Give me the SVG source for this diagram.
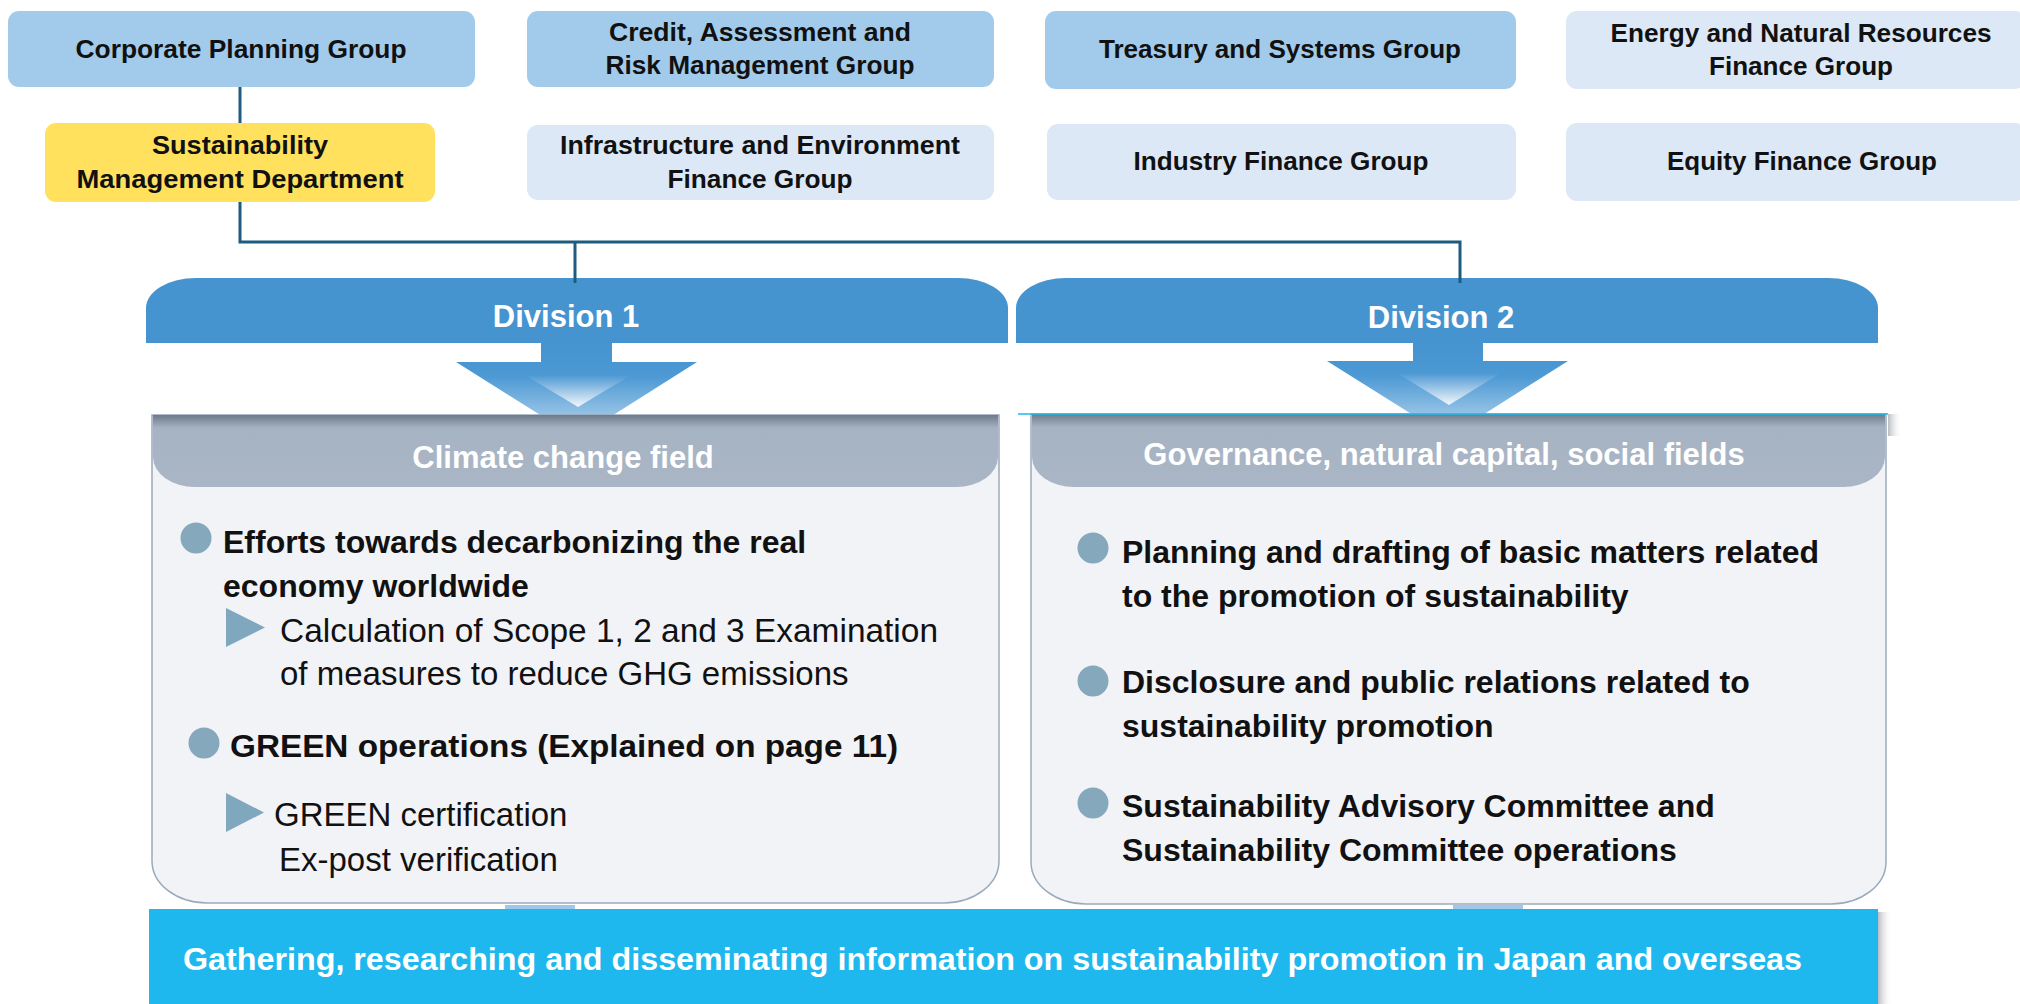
<svg xmlns="http://www.w3.org/2000/svg" width="2020" height="1004" viewBox="0 0 2020 1004">
<defs>
<style>
.grp{font-family:"Liberation Sans",Arial,sans-serif;font-weight:bold;font-size:26px;fill:#111;text-anchor:middle}
.dark{fill:#A2CBEB}
.light{fill:#DCE8F6}
.tab{fill:#4593CF}
.tabtxt{font-family:"Liberation Sans",Arial,sans-serif;font-weight:bold;font-size:31px;fill:#fff;text-anchor:middle}
.hdrtxt{font-family:"Liberation Sans",Arial,sans-serif;font-weight:bold;font-size:31px;fill:#fff;text-anchor:middle}
.body{fill:#F2F3F7;stroke:#9AAABD;stroke-width:1.5}
.b{font-family:"Liberation Sans",Arial,sans-serif;font-weight:bold;font-size:32px;fill:#111}
.r{font-family:"Liberation Sans",Arial,sans-serif;font-size:33px;fill:#111}
.dot{fill:#86A8BC}
.tri{fill:#7FA7BD}
.conn{fill:none;stroke:#1D5C7E;stroke-width:3}
.bantxt{font-family:"Liberation Sans",Arial,sans-serif;font-weight:bold;font-size:31px;fill:#fff}
</style>
<linearGradient id="arrowG" x1="0" y1="0" x2="0" y2="1">
<stop offset="0" stop-color="#4593CF"/>
<stop offset="0.35" stop-color="#4C99D4"/>
<stop offset="1" stop-color="#C2DCF1"/>
</linearGradient>
<linearGradient id="innerG" x1="0" y1="0" x2="0" y2="1">
<stop offset="0" stop-color="#4C98D3"/>
<stop offset="1" stop-color="#F4F7FC"/>
</linearGradient>
<linearGradient id="hdrG" x1="0" y1="0" x2="0" y2="1">
<stop offset="0" stop-color="#6E7A8A"/>
<stop offset="0.18" stop-color="#A6B3C3"/>
<stop offset="1" stop-color="#AAB6C6"/>
</linearGradient>
<linearGradient id="shR" x1="0" y1="0" x2="1" y2="0">
<stop offset="0" stop-color="#8A8F96" stop-opacity="0.6"/>
<stop offset="1" stop-color="#ffffff" stop-opacity="0"/>
</linearGradient>
</defs>
<rect width="2020" height="1004" fill="#fff"/>

<!-- Group boxes -->
<g id="corporate-planning">
<rect class="dark" x="8" y="11" width="467" height="76" rx="11"/>
<text class="grp" x="241" y="58" textLength="331" lengthAdjust="spacingAndGlyphs">Corporate Planning Group</text>
</g>
<g id="credit-risk">
<rect class="dark" x="527" y="11" width="467" height="76" rx="11"/>
<text class="grp" x="760" y="41" textLength="302" lengthAdjust="spacingAndGlyphs">Credit, Assessment and</text>
<text class="grp" x="760" y="74" textLength="309" lengthAdjust="spacingAndGlyphs">Risk Management Group</text>
</g>
<g id="treasury-systems">
<rect class="dark" x="1045" y="11" width="471" height="78" rx="11"/>
<text class="grp" x="1280" y="58" textLength="362" lengthAdjust="spacingAndGlyphs">Treasury and Systems Group</text>
</g>
<g id="energy-natural">
<rect class="light" x="1566" y="11" width="460" height="78" rx="11"/>
<text class="grp" x="1801" y="42" textLength="381" lengthAdjust="spacingAndGlyphs">Energy and Natural Resources</text>
<text class="grp" x="1801" y="75" textLength="184" lengthAdjust="spacingAndGlyphs">Finance Group</text>
</g>
<g id="sustainability-management">
<rect fill="#FFE15E" x="45" y="123" width="390" height="79" rx="11"/>
<text class="grp" x="240" y="154" textLength="176" lengthAdjust="spacingAndGlyphs">Sustainability</text>
<text class="grp" x="240" y="188" textLength="327" lengthAdjust="spacingAndGlyphs">Management Department</text>
</g>
<g id="infrastructure-environment">
<rect class="light" x="527" y="125" width="467" height="75" rx="11"/>
<text class="grp" x="760" y="154" textLength="400" lengthAdjust="spacingAndGlyphs">Infrastructure and Environment</text>
<text class="grp" x="760" y="188" textLength="185" lengthAdjust="spacingAndGlyphs">Finance Group</text>
</g>
<g id="industry-finance">
<rect class="light" x="1047" y="124" width="469" height="76" rx="11"/>
<text class="grp" x="1281" y="170" textLength="295" lengthAdjust="spacingAndGlyphs">Industry Finance Group</text>
</g>
<g id="equity-finance">
<rect class="light" x="1566" y="123" width="460" height="78" rx="11"/>
<text class="grp" x="1802" y="170" textLength="270" lengthAdjust="spacingAndGlyphs">Equity Finance Group</text>
</g>

<!-- Division 1 -->
<g id="division-1">
<path class="tab" d="M146,343 V308 A50,30 0 0 1 196,278 H958 A50,30 0 0 1 1008,308 V343 Z"/>
<text class="tabtxt" x="566" y="327">Division 1</text>
<path fill="url(#arrowG)" d="M541,343 H612 V362 H697 L577,438 L456,362 H541 Z"/>
<path fill="url(#innerG)" d="M525,375 H631 L578,407 Z"/>
</g>

<!-- Division 2 -->
<g id="division-2">
<path class="tab" d="M1016,343 V308 A50,30 0 0 1 1066,278 H1828 A50,30 0 0 1 1878,308 V343 Z"/>
<text class="tabtxt" x="1441" y="328">Division 2</text>
<path fill="url(#arrowG)" d="M1413,343 H1483 V361 H1568 L1448,437 L1327,361 H1413 Z"/>
<path fill="url(#innerG)" d="M1397,373 H1501 L1449,405 Z"/>
</g>

<!-- Climate change field box -->
<g id="climate-change-field">
<path class="body" d="M152,415 H999 V861 A55,42 0 0 1 944,903 H207 A55,42 0 0 1 152,861 Z"/>
<path fill="url(#hdrG)" d="M153,415 H998 V457 A42,30 0 0 1 956,487 H195 A42,30 0 0 1 153,457 Z"/>
<text class="hdrtxt" x="563" y="468">Climate change field</text>
<circle class="dot" cx="196" cy="538" r="15.5"/>
<text class="b" x="223" y="553">Efforts towards decarbonizing the real</text>
<text class="b" x="223" y="597">economy worldwide</text>
<path class="tri" d="M226,608 L265,627.5 L226,647 Z"/>
<text class="r" x="280" y="642" textLength="658" lengthAdjust="spacingAndGlyphs">Calculation of Scope 1, 2 and 3 Examination</text>
<text class="r" x="280" y="685">of measures to reduce GHG emissions</text>
<circle class="dot" cx="204" cy="743" r="15.5"/>
<text class="b" x="230" y="757" font-size="33" textLength="668" lengthAdjust="spacingAndGlyphs">GREEN operations (Explained on page 11)</text>
<path class="tri" d="M226,793 L264,812.5 L226,832 Z"/>
<text class="r" x="274" y="826">GREEN certification</text>
<text class="r" x="279" y="871">Ex-post verification</text>
</g>

<!-- Governance box -->
<g id="governance-fields">
<rect x="1888" y="414" width="14" height="22" fill="url(#shR)"/>
<path class="body" d="M1031,414 H1886 V862 A55,42 0 0 1 1831,904 H1086 A55,42 0 0 1 1031,862 Z"/>
<path fill="url(#hdrG)" d="M1032,414 H1885 V457 A42,30 0 0 1 1843,487 H1074 A42,30 0 0 1 1032,457 Z"/>
<line x1="1018" y1="414" x2="1888" y2="414" stroke="#1FB8EE" stroke-width="1.5"/>
<text class="hdrtxt" x="1444" y="465">Governance, natural capital, social fields</text>
<circle class="dot" cx="1093" cy="548" r="15.5"/>
<text class="b" x="1122" y="563">Planning and drafting of basic matters related</text>
<text class="b" x="1122" y="607">to the promotion of sustainability</text>
<circle class="dot" cx="1093" cy="681" r="15.5"/>
<text class="b" x="1122" y="693">Disclosure and public relations related to</text>
<text class="b" x="1122" y="737">sustainability promotion</text>
<circle class="dot" cx="1093" cy="803" r="15.5"/>
<text class="b" x="1122" y="817">Sustainability Advisory Committee and</text>
<text class="b" x="1122" y="861">Sustainability Committee operations</text>
</g>

<!-- Bottom banner -->
<g id="info-banner">
<rect x="505" y="905" width="70" height="4" fill="#9DC8EA"/>
<rect x="1453" y="905" width="70" height="4" fill="#9DC8EA"/>
<rect x="1878" y="912" width="14" height="92" fill="url(#shR)"/>
<rect x="149" y="909" width="1729" height="95" fill="#1FB8EE"/>
<text class="bantxt" x="183" y="970" textLength="1619" lengthAdjust="spacingAndGlyphs">Gathering, researching and disseminating information on sustainability promotion in Japan and overseas</text>
</g>

<!-- Connectors -->
<g id="connectors">
<path class="conn" d="M240,87 V123"/>
<path class="conn" d="M240,202 V242 H1460 V283"/>
<path class="conn" d="M575,242 V283"/>
</g>
</svg>
